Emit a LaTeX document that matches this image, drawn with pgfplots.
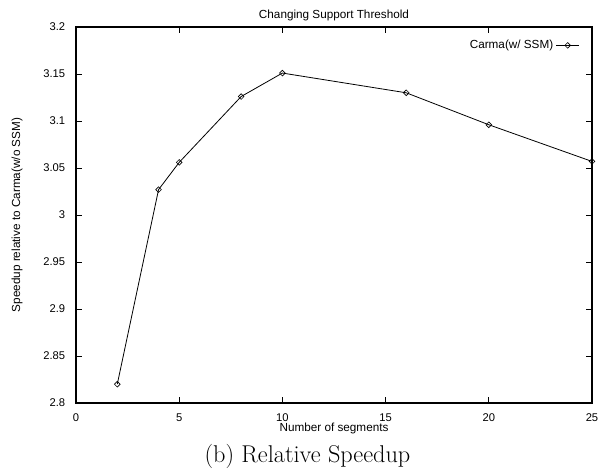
\documentclass[border=0pt]{standalone}
\usepackage{fontspec}
\newfontfamily\arial{Liberation Sans}
\usepackage{pgfplots}
\pgfplotsset{compat=1.18}

\begin{document}
\begin{tikzpicture}
\begin{axis}[
  name=main,
  at={(0,0)}, anchor=south west,
  scale only axis,
  width=387pt, height=282pt,
  xmin=0, xmax=25, ymin=2.8, ymax=3.2,
  xtick={0,5,10,15,20,25},
  ytick={2.8,2.85,2.9,2.95,3,3.05,3.1,3.15,3.2},
  yticklabels={2.8,2.85,2.9,2.95,3,3.05,3.1,3.15,3.2},
  font=\arial\fontsize{8.8}{10}\selectfont,
  tick label style={font=\arial\fontsize{8.4}{10}\selectfont},
  /pgf/number format/assume math mode=true,
  tick align=inside,
  major tick length=4.5pt,
  axis line style={line width=0.9pt},
  tick style={line width=0.7pt, black},
  xticklabel style={inner sep=1pt, yshift=-6.6pt},
  yticklabel style={xshift=-4.6pt},
  every axis title shift=0pt,
  title={Changing Support Threshold},
  title style={at={(axis description cs:0.5,1.0319)}, anchor=center},
  xlabel={Number of segments},
  xlabel style={at={(axis description cs:0.5,-0.0675)}, anchor=center, inner sep=1pt},
  ylabel={Speedup relative to Carma(w/o SSM)},
  ylabel style={at={(axis description cs:-0.1143,0.5)}, anchor=center},
  legend style={at={(axis description cs:0.984,0.98)}, anchor=north east,
    draw=none, fill=none, font=\arial\fontsize{8.8}{10}\selectfont},
  legend cell align=right,
  legend plot pos=right,
  clip=false,
]
\addplot[black, line width=0.6pt, mark=square, mark size=1.5pt,
  mark options={rotate=45, solid, line width=0.5pt}]
  coordinates {(2,2.820) (4,3.027) (5,3.056) (8,3.126) (10,3.151)
               (16,3.130) (20,3.096) (25,3.057)};
\addlegendentry{Carma(w/ SSM)}
\node[font=\fontsize{18.2}{21}\selectfont, anchor=base]
  at (axis description cs:0.4486,-0.157) {(b) Relative Speedup};
\end{axis}
\pgfresetboundingbox
\path[use as bounding box] (-57pt,-50.25pt) rectangle (398.25pt,302.25pt);
\end{tikzpicture}
\end{document}
